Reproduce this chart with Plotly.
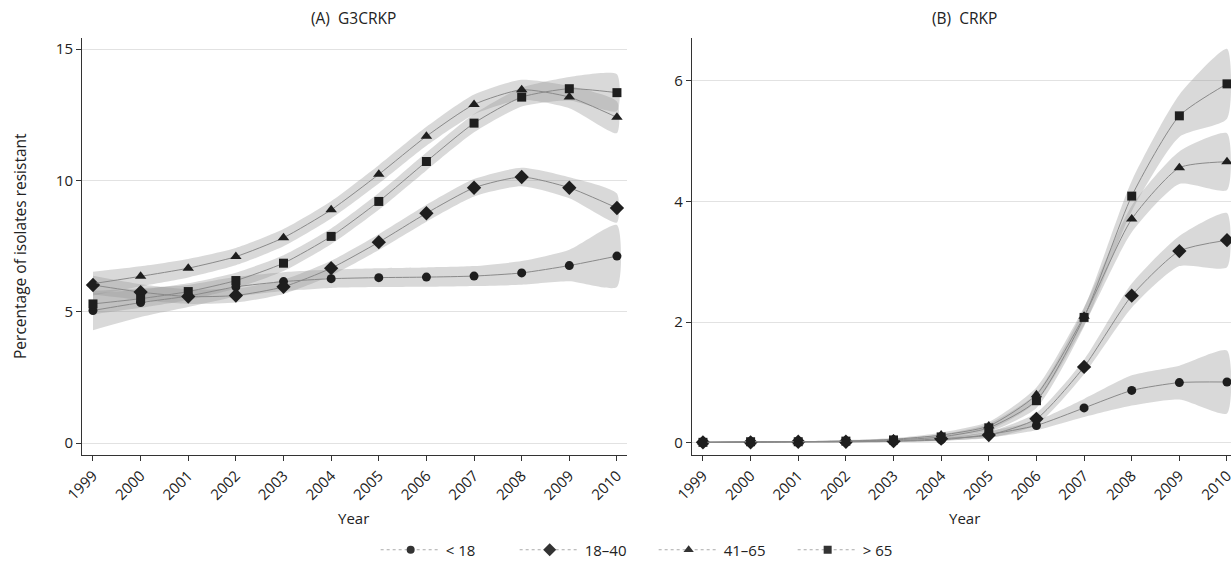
import plotly.graph_objects as go

years = list(range(1999, 2011))
groups = ["< 18", "18\u201340", "41\u201365", "> 65"]
symbols = ["circle", "diamond", "triangle-up", "square"]
msizes = [9, 11, 10, 9]

# (A) G3CRKP  - percentage resistant
g3_lt18 = [5.05, 5.35, 5.6, 5.95, 6.15, 6.26, 6.3, 6.32, 6.36, 6.48, 6.76, 7.12]
g3_18_40 = [6.02, 5.75, 5.58, 5.62, 5.95, 6.66, 7.65, 8.75, 9.72, 10.13, 9.72, 8.95]
g3_41_65 = [6.07, 6.35, 6.66, 7.1, 7.82, 8.88, 10.23, 11.68, 12.89, 13.45, 13.17, 12.4]
g3_gt65 = [5.3, 5.5, 5.77, 6.19, 6.85, 7.87, 9.2, 10.72, 12.18, 13.17, 13.49, 13.34]
# confidence band half-widths
g3_lt18_ci = [0.75, 0.55, 0.42, 0.38, 0.36, 0.35, 0.36, 0.37, 0.38, 0.45, 0.6, 1.18]
g3_18_40_ci = [0.35, 0.3, 0.28, 0.27, 0.27, 0.28, 0.3, 0.32, 0.33, 0.35, 0.4, 0.55]
g3_41_65_ci = [0.45, 0.38, 0.35, 0.33, 0.33, 0.33, 0.35, 0.36, 0.38, 0.38, 0.42, 0.6]
g3_gt65_ci = [0.4, 0.35, 0.32, 0.3, 0.3, 0.3, 0.32, 0.34, 0.35, 0.36, 0.45, 0.7]

# (B) CRKP
cr_lt18 = [0.01, 0.01, 0.02, 0.02, 0.03, 0.05, 0.14, 0.29, 0.58, 0.87, 1.0, 1.01]
cr_18_40 = [0.01, 0.01, 0.02, 0.02, 0.03, 0.07, 0.13, 0.4, 1.26, 2.44, 3.18, 3.36]
cr_41_65 = [0.01, 0.02, 0.02, 0.03, 0.06, 0.13, 0.28, 0.8, 2.1, 3.71, 4.56, 4.66]
cr_gt65 = [0.01, 0.02, 0.02, 0.03, 0.05, 0.1, 0.25, 0.7, 2.08, 4.09, 5.42, 5.95]
cr_lt18_ci = [0.01, 0.01, 0.01, 0.01, 0.015, 0.02, 0.05, 0.08, 0.15, 0.25, 0.28, 0.52]
cr_18_40_ci = [0.01, 0.01, 0.01, 0.01, 0.015, 0.03, 0.05, 0.1, 0.12, 0.2, 0.25, 0.45]
cr_41_65_ci = [0.01, 0.01, 0.01, 0.015, 0.02, 0.04, 0.07, 0.12, 0.15, 0.22, 0.27, 0.47]
cr_gt65_ci = [0.01, 0.01, 0.01, 0.015, 0.02, 0.04, 0.07, 0.12, 0.15, 0.25, 0.35, 0.58]

panels = [
    ("x", "y", [g3_lt18, g3_18_40, g3_41_65, g3_gt65],
     [g3_lt18_ci, g3_18_40_ci, g3_41_65_ci, g3_gt65_ci]),
    ("x2", "y2", [cr_lt18, cr_18_40, cr_41_65, cr_gt65],
     [cr_lt18_ci, cr_18_40_ci, cr_41_65_ci, cr_gt65_ci]),
]

FONT = "Open Sans"
TXT = "#222222"
FS = 15
fig = go.Figure()

for xa, ya, series, cis in panels:
    # bands first
    for vals, ci in zip(series, cis):
        lo = [v - c for v, c in zip(vals, ci)]
        hi = [v + c for v, c in zip(vals, ci)]
        fig.add_trace(go.Scatter(
            x=years + years[::-1], y=hi + lo[::-1], xaxis=xa, yaxis=ya,
            mode="lines", fill="toself", fillcolor="rgba(150,150,150,0.36)",
            line=dict(width=0, shape="spline", smoothing=0.6),
            hoverinfo="skip", showlegend=False))
    for i, vals in enumerate(series):
        fig.add_trace(go.Scatter(
            x=years, y=vals, xaxis=xa, yaxis=ya, mode="lines+markers",
            name=groups[i], legendgroup=groups[i], showlegend=False,
            line=dict(color="#8a8a8a", width=1, shape="spline", smoothing=0.6),
            marker=dict(symbol=symbols[i], size=msizes[i], color="#1e1e1e"),
            cliponaxis=False))

# legend entries
for i, g in enumerate(groups):
    fig.add_trace(go.Scatter(
        x=[None], y=[None], mode="lines+markers", name=g, legendgroup=g,
        line=dict(color="#aaaaaa", width=1, dash="dot"),
        marker=dict(symbol=symbols[i], size=msizes[i] - 1, color="#333333")))

axis_common = dict(showline=True, linecolor="#333333", linewidth=1,
                   ticks="outside", ticklen=5, tickcolor="#333333",
                   tickfont=dict(family=FONT, size=FS, color=TXT),
                   zeroline=False, automargin=False,
                   ticklabeloverflow="allow")

W, H = 1231, 567

ann = dict(xref="paper", yref="paper", showarrow=False,
           xanchor="center", yanchor="middle")

fig.update_layout(
    template="none",
    width=W, height=H,
    margin=dict(l=0, r=0, t=0, b=0, autoexpand=False),
    paper_bgcolor="white", plot_bgcolor="white",
    font=dict(family=FONT, size=FS, color=TXT),
    xaxis=dict(domain=[0.0666, 0.5093], range=[1998.769, 2010.21],
               tickvals=years, tickangle=-45, showgrid=False, anchor="y",
               **axis_common),
    yaxis=dict(domain=[0.1975, 0.933], range=[-0.45, 15.42],
               tickvals=[0, 5, 10, 15], showgrid=True, gridcolor="#e2e2e2",
               anchor="x", **axis_common),
    xaxis2=dict(domain=[0.5621, 1.0], range=[1998.769, 2010.084],
                tickvals=years, tickangle=-45, showgrid=False, anchor="y2",
                **axis_common),
    yaxis2=dict(domain=[0.1975, 0.933], range=[-0.2, 6.71],
                tickvals=[0, 2, 4, 6], showgrid=True, gridcolor="#e2e2e2",
                anchor="x2", **axis_common),
    legend=dict(orientation="h", x=0.531, xanchor="center", y=0.030,
                yanchor="middle", font=dict(family=FONT, size=FS, color=TXT),
                itemwidth=60, entrywidth=64, entrywidthmode="pixels",
                bgcolor="rgba(0,0,0,0)"),
    annotations=[
        dict(text="(A)\u00a0\u00a0G3CRKP", x=0.2868, y=0.9683,
             font=dict(size=FS + 0.5), **ann),
        dict(text="(B)\u00a0\u00a0CRKP", x=0.7839, y=0.9683,
             font=dict(size=FS + 0.5), **ann),
        dict(text="Year", x=0.2868, y=0.0864, font=dict(size=FS), **ann),
        dict(text="Year", x=0.7839, y=0.0864, font=dict(size=FS), **ann),
        dict(text="Percentage of isolates resistant", x=0.0162, y=0.5661,
             textangle=-90, font=dict(size=FS + 0.5), **ann),
    ],
)

fig.write_html(
    "out.html",
    config={"displayModeBar": False},
    post_script="document.body.style.margin='0';"
                "document.body.style.overflow='hidden';",
)
